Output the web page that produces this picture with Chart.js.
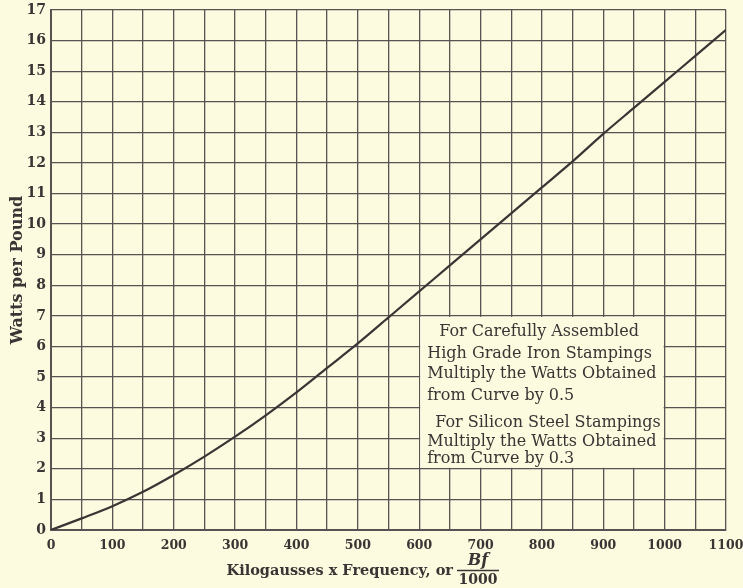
<!DOCTYPE html>
<html>
<head>
<meta charset="utf-8">
<script src="https://cdn.jsdelivr.net/npm/chart.js@4.4.1/dist/chart.umd.min.js"></script>
<style>
  html, body { margin: 0; padding: 0; background: #fcfadf; }
  #wrap { width: 743px; height: 588px; }
</style>
</head>
<body>
<div id="wrap"><canvas id="myChart" width="743" height="588"></canvas></div>
<script>
// Kilogausses x Frequency (Bf/1000)
const bfValues = [0, 50, 100, 150, 200, 250, 300, 350, 400, 450, 500, 550,
                  600, 650, 700, 750, 800, 850, 900, 950, 1000, 1050, 1100];
// Watts per pound
const wattsPerPound = [0, 0.38, 0.78, 1.25, 1.8, 2.4, 3.05, 3.75, 4.5, 5.3, 6.1, 6.95,
                       7.8, 8.65, 9.5, 10.35, 11.2, 12.05, 12.95, 13.8, 14.65, 15.5, 16.35];
const xTickLabels = [0, 100, 200, 300, 400, 500, 600, 700, 800, 900, 1000, 1100];
const noteLines = [
    'For Carefully Assembled',
    'High Grade Iron Stampings',
    'Multiply the Watts Obtained',
    'from Curve by 0.5',
    'For Silicon Steel Stampings',
    'Multiply the Watts Obtained',
    'from Curve by 0.3'
];

const ink = '#3b3434';
const gridInk = '#5a5252';
const paper = '#fcfadf';

const paperPlugin = {
    id: 'paper',
    beforeDraw(chart) {
        const c = chart.ctx;
        c.save();
        c.fillStyle = paper;
        c.fillRect(0, 0, chart.width, chart.height);
        c.restore();
    }
};

// text box in the lower right, covers grid between 600..1000 and 2..7
const notePlugin = {
    id: 'note',
    beforeDatasetsDraw(chart) {
        const x = chart.scales.x, y = chart.scales.y;
        const l = x.getPixelForValue(600), r = x.getPixelForValue(1000);
        const t = y.getPixelForValue(7), b = y.getPixelForValue(2);
        const c = chart.ctx;
        c.save();
        c.fillStyle = paper;
        c.fillRect(l + 1, t + 1, r - l - 2, b - t - 2);
        c.fillStyle = ink;
        c.font = '16px "DejaVu Serif"';
        c.textBaseline = 'middle';
        const offs = [16, 38, 58, 80, 107, 126, 143];
        const indent = [20, 8, 8, 8, 16, 8, 8];
        noteLines.forEach((ln, i) => {
            c.fillText(ln, l + indent[i], t + offs[i]);
        });
        c.restore();
    }
};

// x axis title with the Bf/1000 fraction
const xTitlePlugin = {
    id: 'xtitle',
    afterDraw(chart) {
        const c = chart.ctx;
        c.save();
        c.fillStyle = ink;
        c.strokeStyle = ink;
        c.textBaseline = 'middle';
        c.font = 'bold 14.5px "DejaVu Serif"';
        c.textAlign = 'right';
        c.fillText('Kilogausses x Frequency, or', 453, 571);
        c.textAlign = 'center';
        c.font = 'bold italic 16px "DejaVu Serif"';
        c.fillText('Bf', 478, 561);
        c.font = 'bold 14px "DejaVu Serif"';
        c.fillText('1000', 478, 580);
        c.lineWidth = 1.5;
        c.beginPath();
        c.moveTo(457, 570.5);
        c.lineTo(499, 570.5);
        c.stroke();
        c.restore();
    }
};

const context = document.getElementById('myChart').getContext('2d');
const myChart = new Chart(context, {
    type: 'line',
    data: {
        labels: bfValues,
        datasets: [{
            data: bfValues.map((v, i) => ({ x: v, y: wattsPerPound[i] })),
            borderColor: ink,
            borderWidth: 2.2,
            pointRadius: 0,
            fill: false,
            tension: 0.4,
            cubicInterpolationMode: 'monotone'
        }]
    },
    options: {
        responsive: false,
        animation: false,
        layout: { padding: { top: 10, right: 17, left: 0, bottom: 0 } },
        plugins: {
            legend: { display: false },
            tooltip: { enabled: false }
        },
        scales: {
            x: {
                type: 'linear',
                min: 0,
                max: 1100,
                afterFit(scale) {
                    scale.height = 58;
                    scale.paddingLeft = 0;
                    scale.paddingRight = 0;
                },
                grid: { color: gridInk, lineWidth: 1.3, drawTicks: false },
                border: { color: gridInk, width: 2 },
                ticks: {
                    stepSize: 50,
                    autoSkip: false,
                    maxRotation: 0,
                    padding: 8,
                    color: ink,
                    font: { family: '"DejaVu Serif"', weight: 'bold', size: 12.5 },
                    callback: (v) => xTickLabels.includes(v) ? String(v) : ''
                }
            },
            y: {
                min: 0,
                max: 17,
                afterFit(scale) {
                    scale.width = 51;
                    scale.paddingTop = 0;
                    scale.paddingBottom = 0;
                },
                grid: { color: gridInk, lineWidth: 1.3, drawTicks: false },
                border: { color: gridInk, width: 2 },
                title: {
                    display: true,
                    text: 'Watts per Pound',
                    color: ink,
                    padding: { top: 8, bottom: 0 },
                    font: { family: '"DejaVu Serif"', weight: 'bold', size: 16 }
                },
                ticks: {
                    stepSize: 1,
                    autoSkip: false,
                    padding: 5,
                    color: ink,
                    font: { family: '"DejaVu Serif"', weight: 'bold', size: 14 }
                }
            }
        }
    },
    plugins: [paperPlugin, notePlugin, xTitlePlugin]
});
</script>
</body>
</html>
